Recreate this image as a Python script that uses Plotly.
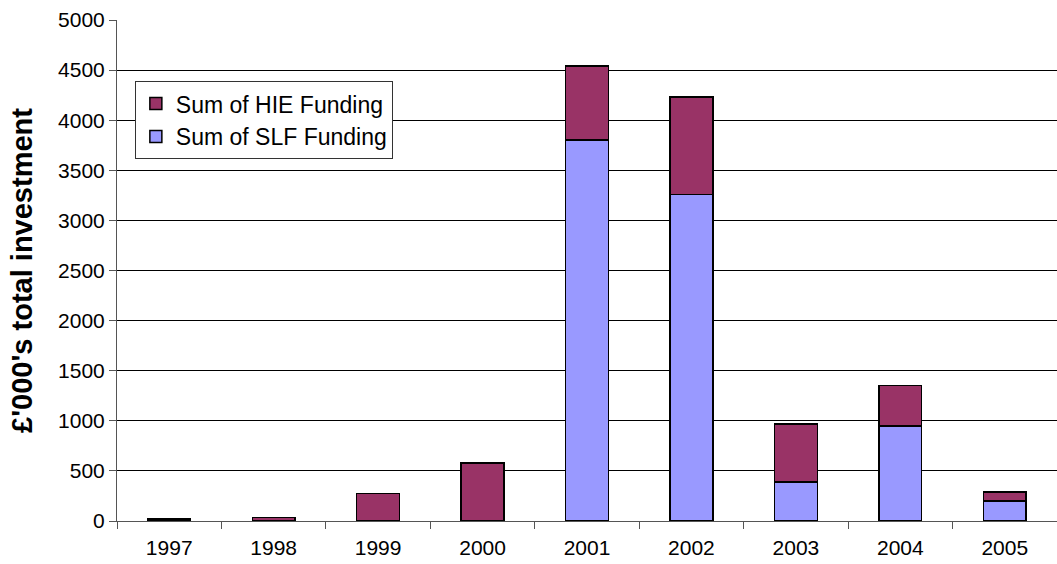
import plotly.graph_objects as go

years = ["1997", "1998", "1999", "2000", "2001", "2002", "2003", "2004", "2005"]
slf_funding = [0, 0, 0, 0, 3800, 3260, 390, 950, 200]
hie_funding = [20, 35, 275, 580, 740, 970, 580, 400, 90]

FONT = "Arial, Liberation Sans, sans-serif"

fig = go.Figure()
fig.add_trace(go.Bar(
    x=years, y=slf_funding, name="Sum of SLF Funding",
    marker=dict(color="#9999FF", line=dict(color="#000000", width=1.5)),
))
fig.add_trace(go.Bar(
    x=years, y=hie_funding, name="Sum of HIE Funding",
    marker=dict(color="#993366", line=dict(color="#000000", width=1.5)),
))

fig.update_layout(
    barmode="stack",
    bargap=0.59,
    width=1057, height=564,
    margin=dict(l=117, r=0, t=20, b=43),
    plot_bgcolor="white", paper_bgcolor="white",
    font=dict(family=FONT, size=21, color="#000000"),
    legend=dict(
        x=0.019, y=0.878, xanchor="left", yanchor="top",
        traceorder="reversed",
        bgcolor="white", bordercolor="#333333", borderwidth=1,
        font=dict(family=FONT, size=23, color="#000000"),
    ),
    showlegend=True,
)
fig.update_xaxes(
    type="category",
    showline=True, linecolor="#555555", linewidth=1,
    ticks="outside", tickson="boundaries", ticklen=7, tickcolor="#555555",
    tickfont=dict(size=21),
    ticklabelstandoff=8,
    showgrid=False,
)
fig.update_yaxes(
    range=[0, 5000], dtick=500,
    showline=True, linecolor="#555555", linewidth=1,
    ticks="outside", ticklen=7, tickcolor="#555555",
    showgrid=True, gridcolor="#000000", gridwidth=1,
    tickfont=dict(size=21),
    title=dict(text="<b>£'000's total investment</b>", font=dict(size=29), standoff=16),
    zeroline=False,
)

fig.write_html("out.html")
